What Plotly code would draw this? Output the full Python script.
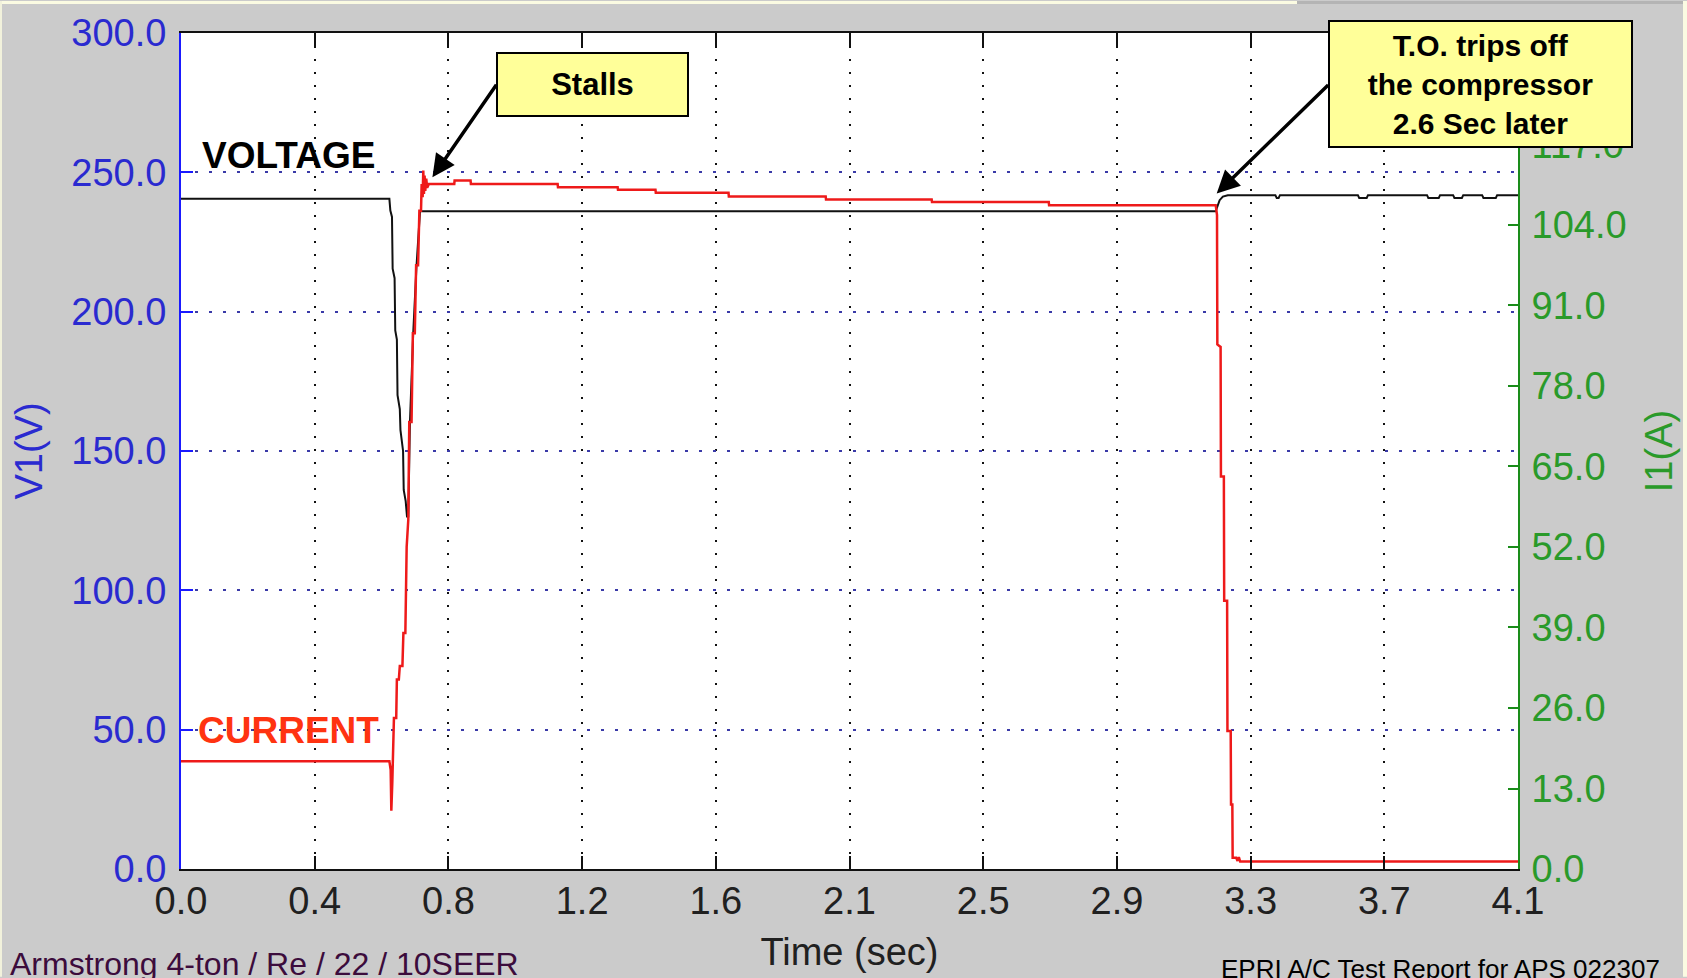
import plotly.graph_objects as go

# ---------------- data ----------------
volt_t = [0.000, 0.639, 0.642, 0.647, 0.649, 0.655, 0.657, 0.662, 0.664, 0.671, 0.673,
          0.681, 0.683, 0.689, 0.693, 0.697, 0.702, 0.712, 0.722, 0.733,
          3.173, 3.178, 3.185, 3.195, 3.210,
          3.356, 3.360, 3.366, 3.370,
          3.609, 3.613, 3.636, 3.640,
          3.821, 3.825, 3.857, 3.861,
          3.901, 3.905, 3.928, 3.932,
          3.990, 3.994, 4.032, 4.036, 4.100]
volt_v = [240.5, 240.5, 236.3, 234.0, 215.4, 212.0, 193.3, 190.0, 170.0, 165.0, 157.5,
          150.0, 136.0, 132.0, 126.5, 126.5, 160.0, 192.0, 216.0, 236.0,
          236.0, 237.5, 240.0, 241.3, 241.8,
          241.8, 240.8, 240.8, 241.8,
          241.8, 240.8, 240.8, 241.8,
          241.8, 240.8, 240.8, 241.8,
          241.8, 240.8, 240.8, 241.8,
          241.8, 240.8, 240.8, 241.8, 241.8]

cur_t = [0.000, 0.639, 0.643, 0.645, 0.648, 0.653, 0.660, 0.662, 0.668, 0.671, 0.679,
         0.682, 0.688, 0.692, 0.697, 0.700, 0.707, 0.711, 0.717, 0.721, 0.727, 0.731,
         0.736, 0.738, 0.741, 0.743, 0.745, 0.747, 0.749, 0.752, 0.755, 0.760,
         0.838, 0.839, 0.888, 0.889, 1.155, 1.156, 1.339, 1.340, 1.455, 1.456,
         1.679, 1.680, 1.977, 1.978, 2.302, 2.303, 2.661, 2.662,
         3.173, 3.177, 3.178, 3.188, 3.189, 3.198, 3.199, 3.208, 3.209, 3.219, 3.220,
         3.224, 3.225, 3.236, 3.240, 3.244, 3.248, 4.100]
cur_a = [17.4, 17.4, 16.0, 9.4, 14.0, 24.4, 24.4, 30.6, 30.6, 32.8, 32.8,
         38.1, 38.1, 52.0, 56.4, 72.2, 72.2, 86.5, 86.5, 97.5, 97.5, 106.3,
         106.3, 110.6, 108.5, 112.8, 109.0, 112.0, 109.5, 111.5, 110.0, 110.6,
         110.6, 111.2, 111.2, 110.6, 110.6, 110.1, 110.1, 109.7, 109.7, 109.2,
         109.2, 108.6, 108.6, 108.1, 108.1, 107.7, 107.7, 107.2,
         107.2, 105.6, 84.7, 84.3, 63.4, 63.4, 43.3, 43.3, 22.3, 22.3, 10.4,
         10.4, 1.8, 1.8, 1.3, 1.9, 1.2, 1.2]

x_tickvals = [0.0, 0.41, 0.82, 1.23, 1.64, 2.05, 2.46, 2.87, 3.28, 3.69, 4.10]
x_ticktext = ["0.0", "0.4", "0.8", "1.2", "1.6", "2.1", "2.5", "2.9", "3.3", "3.7", "4.1"]
v_tickvals = [0, 50, 100, 150, 200, 250, 300]
v_ticktext = ["0.0", "50.0", "100.0", "150.0", "200.0", "250.0", "300.0"]
i_tickvals = [0, 13, 26, 39, 52, 65, 78, 91, 104, 117]
i_ticktext = ["0.0", "13.0", "26.0", "39.0", "52.0", "65.0", "78.0", "91.0", "104.0", "117.0"]

# ---------------- figure ----------------
W, H = 1687, 978
ML, MR, MT, MB = 181, 169, 32, 108
PW, PH = W - ML - MR, H - MT - MB

def px(xp):
    return (xp - ML) / PW

def py(yp):
    return (H - MB - yp) / PH

FONT = "Liberation Sans, Arial, sans-serif"
BLUE_T = "#2a2ad0"
GREEN_T = "#2a9a2a"

fig = go.Figure()
fig.add_trace(go.Scatter(x=volt_t, y=volt_v, mode="lines", name="VOLTAGE",
                         line=dict(color="#111111", width=2), yaxis="y",
                         showlegend=False))
fig.add_trace(go.Scatter(x=cur_t, y=cur_a, mode="lines", name="CURRENT",
                         line=dict(color="#ee1a1a", width=2.5), yaxis="y2",
                         showlegend=False))

fig.update_layout(
    width=W, height=H,
    margin=dict(l=ML, r=MR, t=MT, b=MB, pad=0),
    paper_bgcolor="#cbcbcb",
    plot_bgcolor="#ffffff",
    font=dict(family=FONT, size=38, color="#202020"),
    xaxis=dict(
        range=[0, 4.1], tickvals=x_tickvals, ticktext=x_ticktext,
        ticks="inside", ticklen=13, tickwidth=2, tickcolor="#111111",
        showline=True, linecolor="#111111", linewidth=2, mirror="ticks",
        showgrid=True, gridcolor="#111111", gridwidth=2, griddash="2px,11px",
        zeroline=False, tickfont=dict(size=38, color="#202020"),
        ticklabelstandoff=-3,
        title=dict(text="Time (sec)", font=dict(size=38, color="#202020"), standoff=18),
    ),
    yaxis=dict(
        range=[0, 300], tickvals=v_tickvals, ticktext=v_ticktext,
        ticks="inside", ticklen=12, tickwidth=2, tickcolor="#1a1aff",
        showline=True, linecolor="#1a1aff", linewidth=2,
        showgrid=True, gridcolor="#3a3aa8", gridwidth=2, griddash="3px,11px",
        zeroline=False, tickfont=dict(size=38, color=BLUE_T),
        ticklabelstandoff=5,
        title=dict(text="V1(V)", font=dict(size=38, color=BLUE_T), standoff=17),
    ),
    yaxis2=dict(
        range=[0, 135], tickvals=i_tickvals, ticktext=i_ticktext,
        overlaying="y", side="right",
        ticks="inside", ticklen=10, tickwidth=2, tickcolor="#1a8c1a",
        showline=True, linecolor="#1a8c1a", linewidth=2,
        showgrid=False, zeroline=False, tickfont=dict(size=38, color=GREEN_T),
        ticklabelstandoff=4,
        title=dict(text="I1(A)", font=dict(size=38, color=GREEN_T), standoff=20),
    ),
)

shapes = [
    dict(type="rect", xref="paper", yref="paper", x0=px(0), x1=px(1297), y0=py(3), y1=py(0),
         fillcolor="#fbfbe2", line=dict(width=0), layer="above"),
    dict(type="rect", xref="paper", yref="paper", x0=px(1297), x1=px(1683), y0=py(3), y1=py(0),
         fillcolor="#b4b4b4", line=dict(width=0), layer="above"),
    dict(type="rect", xref="paper", yref="paper", x0=px(1683), x1=px(W), y0=py(H), y1=py(0),
         fillcolor="#fbfbe2", line=dict(width=0), layer="above"),
    dict(type="rect", xref="paper", yref="paper", x0=px(0), x1=px(2), y0=py(H), y1=py(0),
         fillcolor="#f2f2dc", line=dict(width=0), layer="above"),
]
fig.update_layout(shapes=shapes)

ann = []
ann.append(dict(xref="paper", yref="paper", x=px(200), y=py(155), xanchor="left", yanchor="middle",
                text="<b>VOLTAGE</b>", showarrow=False, font=dict(size=37, color="#000000")))
ann.append(dict(xref="paper", yref="paper", x=px(196), y=py(731), xanchor="left", yanchor="middle",
                text="<b>CURRENT</b>", showarrow=False, font=dict(size=37, color="#ff3311")))
ann.append(dict(xref="x", yref="y", x=0.771, y=248.2, ax=65, ay=-94, text="",
                showarrow=True, arrowhead=2, arrowsize=1.3, arrowwidth=3.5, arrowcolor="#000000"))
ann.append(dict(xref="x", yref="y", x=3.176, y=242.4, ax=113, ay=-110, text="",
                showarrow=True, arrowhead=2, arrowsize=1.3, arrowwidth=3.5, arrowcolor="#000000"))
ann.append(dict(xref="paper", yref="paper", x=px(592.5), y=py(83.5), xanchor="center", yanchor="middle",
                text="<b>Stalls</b>", showarrow=False, font=dict(size=31, color="#000000"),
                bgcolor="#ffff99", bordercolor="#000000", borderwidth=2, borderpad=0,
                width=189, height=61))
ann.append(dict(xref="paper", yref="paper", x=px(1480.5), y=py(83), xanchor="center", yanchor="middle",
                text="<b>T.O. trips off<br>the compressor<br>2.6 Sec later</b>", showarrow=False,
                font=dict(size=30, color="#000000"),
                bgcolor="#ffff99", bordercolor="#000000", borderwidth=2, borderpad=0,
                width=301, height=124))
ann.append(dict(xref="paper", yref="paper", x=px(8), y=py(965), xanchor="left", yanchor="middle",
                text="Armstrong 4-ton / Re / 22 / 10SEER", showarrow=False,
                font=dict(size=32, color="#3c0c3c")))
ann.append(dict(xref="paper", yref="paper", x=px(1219), y=py(970), xanchor="left", yanchor="middle",
                text="EPRI A/C Test Report for APS 022307", showarrow=False,
                font=dict(size=26, color="#000000")))
fig.update_layout(annotations=ann)

fig.write_html("out.html", config={"displayModeBar": False},
               post_script="document.body.style.margin='0';document.body.style.overflow='hidden';")
